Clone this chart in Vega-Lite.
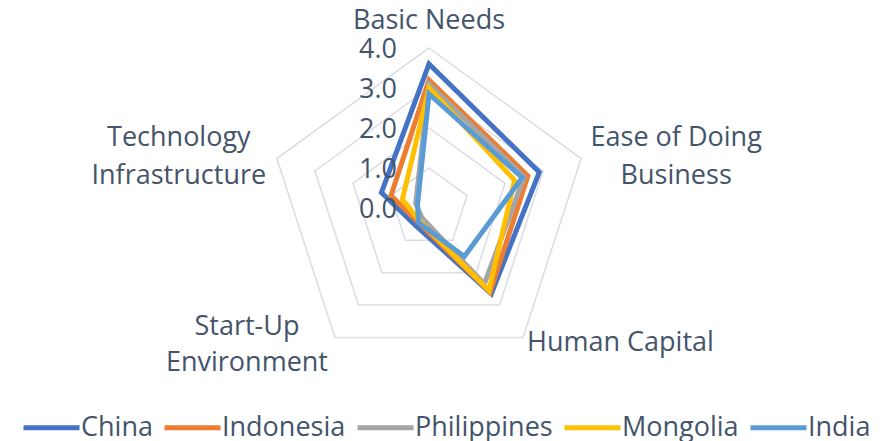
{
  "$schema": "https://vega.github.io/schema/vega-lite/v6.json",
  "width": 892,
  "height": 441,
  "padding": 0,
  "autosize": {"type": "none"},
  "background": "white",
  "config": {
    "view": {"stroke": null},
    "font": "Open Sans",
    "text": {"font": "Open Sans", "fontSize": 27, "color": "#44546A"}
  },
  "datasets": {
    "scores": [
      {"country": "China", "dim": "Basic Needs", "value": 3.6},
      {"country": "China", "dim": "Ease of Doing Business", "value": 2.9},
      {"country": "China", "dim": "Human Capital", "value": 2.65},
      {"country": "China", "dim": "Start-Up Environment", "value": 0.55},
      {"country": "China", "dim": "Technology Infrastructure", "value": 1.25},
      {"country": "Indonesia", "dim": "Basic Needs", "value": 3.2},
      {"country": "Indonesia", "dim": "Ease of Doing Business", "value": 2.6},
      {"country": "Indonesia", "dim": "Human Capital", "value": 2.6},
      {"country": "Indonesia", "dim": "Start-Up Environment", "value": 0.45},
      {"country": "Indonesia", "dim": "Technology Infrastructure", "value": 1.0},
      {"country": "Philippines", "dim": "Basic Needs", "value": 3.1},
      {"country": "Philippines", "dim": "Ease of Doing Business", "value": 2.5},
      {"country": "Philippines", "dim": "Human Capital", "value": 2.35},
      {"country": "Philippines", "dim": "Start-Up Environment", "value": 0.3},
      {"country": "Philippines", "dim": "Technology Infrastructure", "value": 0.35},
      {"country": "Mongolia", "dim": "Basic Needs", "value": 3.0},
      {"country": "Mongolia", "dim": "Ease of Doing Business", "value": 2.25},
      {"country": "Mongolia", "dim": "Human Capital", "value": 2.55},
      {"country": "Mongolia", "dim": "Start-Up Environment", "value": 0.4},
      {"country": "Mongolia", "dim": "Technology Infrastructure", "value": 0.7},
      {"country": "India", "dim": "Basic Needs", "value": 2.85},
      {"country": "India", "dim": "Ease of Doing Business", "value": 2.45},
      {"country": "India", "dim": "Human Capital", "value": 1.5},
      {"country": "India", "dim": "Start-Up Environment", "value": 0.45},
      {"country": "India", "dim": "Technology Infrastructure", "value": 0.3}
    ],
    "grid": [
      {"level": 1, "dim": "Basic Needs"}, {"level": 1, "dim": "Ease of Doing Business"}, {"level": 1, "dim": "Human Capital"}, {"level": 1, "dim": "Start-Up Environment"}, {"level": 1, "dim": "Technology Infrastructure"},
      {"level": 2, "dim": "Basic Needs"}, {"level": 2, "dim": "Ease of Doing Business"}, {"level": 2, "dim": "Human Capital"}, {"level": 2, "dim": "Start-Up Environment"}, {"level": 2, "dim": "Technology Infrastructure"},
      {"level": 3, "dim": "Basic Needs"}, {"level": 3, "dim": "Ease of Doing Business"}, {"level": 3, "dim": "Human Capital"}, {"level": 3, "dim": "Start-Up Environment"}, {"level": 3, "dim": "Technology Infrastructure"},
      {"level": 4, "dim": "Basic Needs"}, {"level": 4, "dim": "Ease of Doing Business"}, {"level": 4, "dim": "Human Capital"}, {"level": 4, "dim": "Start-Up Environment"}, {"level": 4, "dim": "Technology Infrastructure"}
    ],
    "ticks": [{"v": 0}, {"v": 1}, {"v": 2}, {"v": 3}, {"v": 4}],
    "cats": [
      {"dim": "Basic Needs", "lines": ["Basic Needs"]},
      {"dim": "Ease of Doing Business", "lines": ["Ease of Doing", "Business"]},
      {"dim": "Human Capital", "lines": ["Human Capital"]},
      {"dim": "Start-Up Environment", "lines": ["Start-Up", "Environment"]},
      {"dim": "Technology Infrastructure", "lines": ["Technology", "Infrastructure"]}
    ]
  },
  "layer": [
    {
      "data": {"name": "grid"},
      "transform": [
        {"calculate": "indexof(['Basic Needs','Ease of Doing Business','Human Capital','Start-Up Environment','Technology Infrastructure'], datum.dim)", "as": "idx"},
        {"calculate": "datum.level * sin(datum.idx * 2 * PI / 5)", "as": "x"},
        {"calculate": "datum.level * cos(datum.idx * 2 * PI / 5)", "as": "y"}
      ],
      "mark": {"type": "line", "interpolate": "linear-closed", "stroke": "#D9DDE3", "strokeWidth": 1.5},
      "encoding": {
        "x": {"field": "x", "type": "quantitative", "scale": {"domain": [-10.725, 11.575], "nice": false, "zero": false}, "axis": null},
        "y": {"field": "y", "type": "quantitative", "scale": {"domain": [-5.825, 5.2], "nice": false, "zero": false}, "axis": null},
        "detail": {"field": "level", "type": "nominal"},
        "order": {"field": "idx", "type": "quantitative"}
      }
    },
    {
      "data": {"name": "scores"},
      "transform": [
        {"calculate": "indexof(['Basic Needs','Ease of Doing Business','Human Capital','Start-Up Environment','Technology Infrastructure'], datum.dim)", "as": "idx"},
        {"calculate": "datum.value * sin(datum.idx * 2 * PI / 5)", "as": "x"},
        {"calculate": "datum.value * cos(datum.idx * 2 * PI / 5)", "as": "y"}
      ],
      "mark": {"type": "line", "interpolate": "linear-closed", "strokeWidth": 5, "strokeJoin": "miter", "strokeCap": "butt"},
      "encoding": {
        "x": {"field": "x", "type": "quantitative"},
        "y": {"field": "y", "type": "quantitative"},
        "color": {
          "field": "country",
          "type": "nominal",
          "sort": ["China", "Indonesia", "Philippines", "Mongolia", "India"],
          "scale": {"domain": ["China", "Indonesia", "Philippines", "Mongolia", "India"], "range": ["#4472C4", "#ED7D31", "#A5A5A5", "#FFC000", "#5B9BD5"]},
          "legend": {
            "title": null,
            "orient": "none",
            "legendX": 21,
            "legendY": 397,
            "direction": "horizontal",
            "columns": 5,
            "symbolType": "stroke",
            "symbolSize": 3136,
            "symbolStrokeWidth": 5,
            "labelFont": "Open Sans",
            "labelFontSize": 27,
            "labelColor": "#44546A",
            "labelOffset": -1,
            "columnPadding": 1,
            "padding": 0
          }
        },
        "order": {"field": "idx", "type": "quantitative"}
      }
    },
    {
      "data": {"name": "ticks"},
      "transform": [
        {"calculate": "0", "as": "x"},
        {"calculate": "datum.v", "as": "y"}
      ],
      "mark": {"type": "text", "align": "right", "baseline": "middle", "dx": -32, "dy": 2},
      "encoding": {
        "x": {"field": "x", "type": "quantitative"},
        "y": {"field": "y", "type": "quantitative"},
        "text": {"field": "v", "type": "quantitative", "format": ".1f"}
      }
    },
    {
      "data": {"name": "cats"},
      "transform": [
        {"filter": "datum.dim == 'Basic Needs'"},
        {"calculate": "0", "as": "x"},
        {"calculate": "4", "as": "y"}
      ],
      "mark": {"type": "text", "align": "center", "baseline": "middle", "dy": -27, "lineHeight": 38},
      "encoding": {
        "x": {"field": "x", "type": "quantitative"},
        "y": {"field": "y", "type": "quantitative"},
        "text": {"field": "lines"}
      }
    },
    {
      "data": {"name": "cats"},
      "transform": [
        {"filter": "datum.dim == 'Ease of Doing Business'"},
        {"calculate": "4 * sin(2 * PI / 5)", "as": "x"},
        {"calculate": "4 * cos(2 * PI / 5)", "as": "y"}
      ],
      "mark": {"type": "text", "align": "center", "baseline": "middle", "dx": 95, "dy": -21, "lineHeight": 38},
      "encoding": {
        "x": {"field": "x", "type": "quantitative"},
        "y": {"field": "y", "type": "quantitative"},
        "text": {"field": "lines"}
      }
    },
    {
      "data": {"name": "cats"},
      "transform": [
        {"filter": "datum.dim == 'Human Capital'"},
        {"calculate": "4 * sin(4 * PI / 5)", "as": "x"},
        {"calculate": "4 * cos(4 * PI / 5)", "as": "y"}
      ],
      "mark": {"type": "text", "align": "left", "baseline": "middle", "dx": 4, "dy": 6, "lineHeight": 38},
      "encoding": {
        "x": {"field": "x", "type": "quantitative"},
        "y": {"field": "y", "type": "quantitative"},
        "text": {"field": "lines"}
      }
    },
    {
      "data": {"name": "cats"},
      "transform": [
        {"filter": "datum.dim == 'Start-Up Environment'"},
        {"calculate": "4 * sin(6 * PI / 5)", "as": "x"},
        {"calculate": "4 * cos(6 * PI / 5)", "as": "y"}
      ],
      "mark": {"type": "text", "align": "center", "baseline": "middle", "dx": -88, "dy": -10, "lineHeight": 36},
      "encoding": {
        "x": {"field": "x", "type": "quantitative"},
        "y": {"field": "y", "type": "quantitative"},
        "text": {"field": "lines"}
      }
    },
    {
      "data": {"name": "cats"},
      "transform": [
        {"filter": "datum.dim == 'Technology Infrastructure'"},
        {"calculate": "4 * sin(8 * PI / 5)", "as": "x"},
        {"calculate": "4 * cos(8 * PI / 5)", "as": "y"}
      ],
      "mark": {"type": "text", "align": "center", "baseline": "middle", "dx": -98, "dy": -21, "lineHeight": 38},
      "encoding": {
        "x": {"field": "x", "type": "quantitative"},
        "y": {"field": "y", "type": "quantitative"},
        "text": {"field": "lines"}
      }
    }
  ]
}
